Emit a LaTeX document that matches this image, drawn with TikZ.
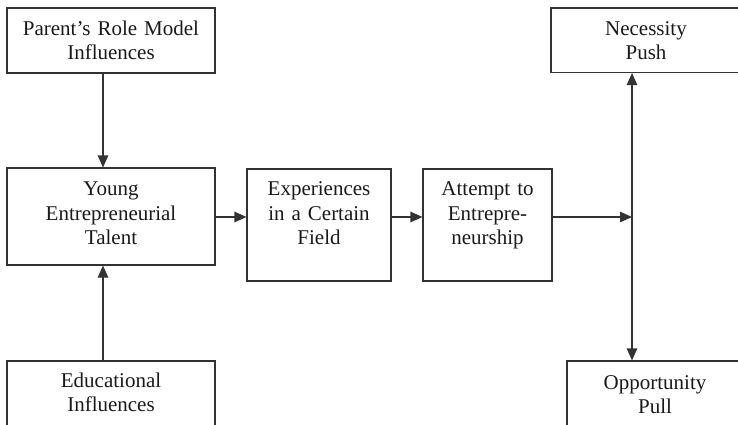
\documentclass[tikz,border=0pt]{standalone}
\usepackage{fontspec}
\setmainfont{Liberation Serif}
\usetikzlibrary{arrows.meta}
\begin{document}
\begin{tikzpicture}[x=1pt, y=-1pt,
  box/.style={draw=black!80, line width=1.1pt, rectangle, inner sep=0pt},
  txt/.style={anchor=base, text width=200pt, align=center, inner sep=0pt,
    text=black!90, font=\fontsize{21}{24.5}\selectfont},
  link/.style={draw=black!80, line width=1.1pt},
  tip/.style={-{Triangle[length=12pt, width=10.5pt]}},
  tips/.style={{Triangle[length=12pt, width=10.5pt]}-{Triangle[length=12pt, width=10.5pt]}}]
\useasboundingbox (0,0) rectangle (738,424);
\clip (0,0) rectangle (738,424);

% boxes
\node[box, minimum width=208pt, minimum height=65pt]  (parent) at (111,40.5) {};
\node[box, minimum width=208pt, minimum height=97pt]  (young)  at (111,216.5) {};
\node[box, minimum width=208pt, minimum height=65pt]  (educ)   at (111,393.5) {};
\node[box, minimum width=144pt, minimum height=112pt] (exper)  at (319,225) {};
\node[box, minimum width=129pt, minimum height=112pt] (attempt) at (487.5,225) {};
\node[box, minimum width=190pt, minimum height=64.5pt] (push)  at (646,40.25) {};
\node[box, minimum width=176pt, minimum height=65pt]  (pull)   at (655,393.5) {};

% box texts, first baseline below each top edge
\node[txt] (parentT)  at ([yshift=-28pt]parent.north)  {Parent’s Role Model\\Influences};
\node[txt] (youngT)   at ([yshift=-28.5pt]young.north) {Young\\Entrepreneurial\\Talent};
\node[txt] (educT)    at ([yshift=-27pt]educ.north)    {Educational\\Influences};
\node[txt] (experT)   at ([yshift=-27.5pt]exper.north) {Experiences\\in a Certain\\Field};
\node[txt] (attemptT) at ([yshift=-27.5pt]attempt.north) {Attempt to\\Entrepre-\\neurship};
\node[txt] (pushT)    at ([yshift=-28pt]push.north)    {Necessity\\Push};
\node[txt] (pullT)    at ([yshift=-29pt]pull.north)    {Opportunity\\Pull};

% connector guides
\coordinate (colA) at (103,0);
\coordinate (junc) at (632,217);

% connectors
\draw[link, tip] (parent.south -| colA) -- (young.north -| colA);
\draw[link, tip] (educ.north -| colA) -- (young.south -| colA);
\draw[link, tip] (young.east |- junc) -- (exper.west |- junc);
\draw[link, tip] (exper.east |- junc) -- (attempt.west |- junc);
\draw[link, tip] (attempt.east |- junc) -- (junc);
\draw[link, tips] (junc |- push.south) -- (junc |- pull.north);
\end{tikzpicture}
\end{document}
